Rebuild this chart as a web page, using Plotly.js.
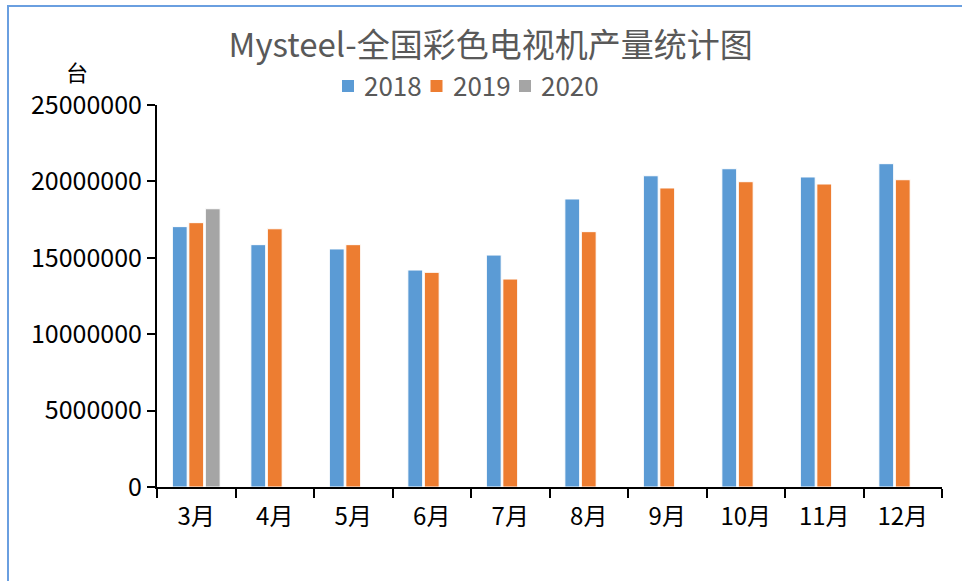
<!DOCTYPE html>
<html>
<head>
<meta charset="utf-8">
<script src="https://cdn.plot.ly/plotly-3.0.1.min.js"></script>
<style>html,body{margin:0;padding:0;background:#fff;}#chart{width:962px;height:581px;}</style>
</head>
<body>
<div id="chart"></div>
<script>
const categories = ["3月","4月","5月","6月","7月","8月","9月","10月","11月","12月"];
const values2018 = [17040000, 15860000, 15580000, 14200000, 15180000, 18850000, 20370000, 20830000, 20290000, 21160000];
const values2019 = [17300000, 16900000, 15860000, 14050000, 13610000, 16710000, 19570000, 19980000, 19830000, 20110000];
const values2020 = [18210000, null, null, null, null, null, null, null, null, null];
const seriesNames = ["2018","2019","2020"];
const yTicks = [0, 5000000, 10000000, 15000000, 20000000, 25000000];

const colors = ["#5b9bd5","#ed7d31","#a5a5a5"];
const allValues = [values2018, values2019, values2020];
const cjk = '"Noto Sans CJK SC", "Noto Sans", sans-serif';

const W = 962, H = 581;
const M = {l: 157, r: 20, t: 105, b: 94};
const pw = W - M.l - M.r, ph = H - M.t - M.b;
const px2paperX = p => (p - M.l) / pw;
const px2paperY = p => (H - M.b - p) / ph;

const traces = allValues.map((v, i) => ({
  type: 'bar',
  name: seriesNames[i],
  x: categories,
  y: v,
  marker: {color: colors[i], line: {color: '#ffffff', width: 1}},
  hoverinfo: 'x+y+name'
}));

// Manual legend (Excel-like compact spacing)
const legendStartX = 342, legendPitch = 88.5, legendY = 86, sq = 12, textOffset = 20;
const legendShapes = seriesNames.map((n, i) => {
  const x0 = legendStartX + i * legendPitch;
  return {
    type: 'rect', xref: 'paper', yref: 'paper',
    x0: px2paperX(x0), x1: px2paperX(x0 + sq),
    y0: px2paperY(legendY + sq / 2), y1: px2paperY(legendY - sq / 2),
    line: {width: 0}, fillcolor: colors[i]
  };
});
const legendTexts = seriesNames.map((n, i) => ({
  text: n, xref: 'paper', yref: 'paper',
  x: px2paperX(legendStartX + i * legendPitch + textOffset), y: px2paperY(legendY - 1.5),
  xanchor: 'left', yanchor: 'middle', showarrow: false,
  font: {family: cjk, size: 26, color: '#595959'}
}));

const layout = {
  width: W, height: H,
  margin: M,
  paper_bgcolor: '#ffffff',
  plot_bgcolor: '#ffffff',
  barmode: 'group',
  bargap: 0.37,
  bargroupgap: 0.1,
  showlegend: false,
  title: {
    text: 'Mysteel-全国彩色电视机产量统计图',
    font: {family: cjk, size: 33, color: '#595959'},
    xref: 'container', x: 0.51, xanchor: 'center',
    yref: 'container', y: 0.921, yanchor: 'middle'
  },
  xaxis: {
    type: 'category',
    showline: true, linecolor: '#000000', linewidth: 2,
    ticks: 'outside', tickson: 'boundaries', ticklen: 9, tickwidth: 2, tickcolor: '#000000',
    tickfont: {family: cjk, size: 24, color: '#000000'},
    ticklabelstandoff: 7,
    showgrid: false, zeroline: false,
    fixedrange: true
  },
  yaxis: {
    range: [0, 25000000],
    tickvals: yTicks,
    ticktext: yTicks.map(String),
    showline: true, linecolor: '#000000', linewidth: 2,
    ticks: 'outside', ticklen: 8, tickwidth: 2, tickcolor: '#000000',
    tickfont: {family: cjk, size: 25, color: '#000000'},
    ticklabelstandoff: 0,
    showgrid: false, zeroline: false,
    fixedrange: true
  },
  annotations: [{
    text: '台', xref: 'paper', yref: 'paper', x: px2paperX(77), y: px2paperY(71),
    xanchor: 'center', yanchor: 'middle', showarrow: false,
    font: {family: cjk, size: 22, color: '#000000'}
  }].concat(legendTexts),
  shapes: [{
    type: 'rect', xref: 'paper', yref: 'paper',
    x0: px2paperX(8), x1: px2paperX(1000), y0: px2paperY(640), y1: px2paperY(6),
    line: {color: '#6a9fe0', width: 2}, fillcolor: 'rgba(0,0,0,0)', layer: 'below'
  }].concat(legendShapes)
};

Plotly.newPlot('chart', traces, layout, {displayModeBar: false, staticPlot: true});
</script>
</body>
</html>
